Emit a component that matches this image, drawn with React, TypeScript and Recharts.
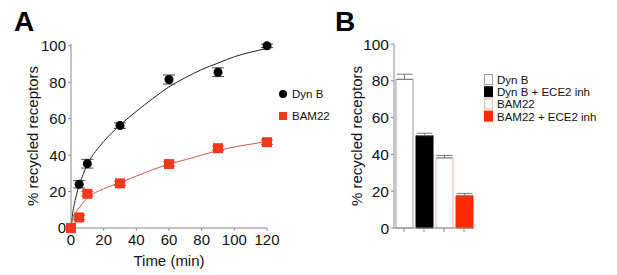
import React from 'react'
import {
  ComposedChart,
  BarChart,
  Bar,
  Cell,
  Line,
  Scatter,
  ErrorBar,
  XAxis,
  YAxis,
} from 'recharts'

const FONT = '"Liberation Sans", Arial, sans-serif'

// Panel A: measured points (time in min, % recycled, sem)
const dynBPoints = [
  { t: 0, y: 0, err: 0 },
  { t: 5, y: 24, err: 2 },
  { t: 10, y: 35.3, err: 2.4 },
  { t: 30, y: 56.2, err: 1.5 },
  { t: 60, y: 81.5, err: 2.5 },
  { t: 90, y: 85.5, err: 2.4 },
  { t: 120, y: 100, err: 1 },
]

const bam22Points = [
  { t: 0, y: 0, err: 0 },
  { t: 5, y: 5.8, err: 1.2 },
  { t: 10, y: 18.8, err: 1.2 },
  { t: 30, y: 24.5, err: 1.2 },
  { t: 60, y: 35.1, err: 1.2 },
  { t: 90, y: 43.8, err: 1.2 },
  { t: 120, y: 47.1, err: 1.2 },
]

// fitted curves
const dynBFit = [
  { t: 0, y: 0 }, { t: 1, y: 8 }, { t: 2, y: 13 }, { t: 3, y: 17 },
  { t: 5, y: 23.5 }, { t: 7.5, y: 29.5 }, { t: 10, y: 35 }, { t: 15, y: 42 },
  { t: 20, y: 47.5 }, { t: 30, y: 56.5 }, { t: 40, y: 64 }, { t: 50, y: 71 },
  { t: 60, y: 77.5 }, { t: 70, y: 82.5 }, { t: 80, y: 87 }, { t: 90, y: 90.5 },
  { t: 100, y: 94 }, { t: 110, y: 96.5 }, { t: 120, y: 98.5 },
]

const bam22Fit = [
  { t: 0, y: 0 }, { t: 1, y: 4.5 }, { t: 2, y: 7 }, { t: 3, y: 8.5 },
  { t: 5, y: 11 }, { t: 7.5, y: 14 }, { t: 10, y: 16.5 }, { t: 15, y: 19.5 },
  { t: 20, y: 21.5 }, { t: 30, y: 25 }, { t: 40, y: 28.5 }, { t: 50, y: 32 },
  { t: 60, y: 35 }, { t: 70, y: 37.5 }, { t: 80, y: 40 }, { t: 90, y: 42.5 },
  { t: 100, y: 44.5 }, { t: 110, y: 46 }, { t: 120, y: 47.5 },
]

const timeTicks = [0, 20, 40, 60, 80, 100, 120]
const pctTicks = [0, 20, 40, 60, 80, 100]

// Panel B
const conditions = ['Dyn B', 'Dyn B + ECE2 inh', 'BAM22', 'BAM22 + ECE2 inh']
const recycled = [80.8, 50.2, 38.1, 17.5]
const recycledErr = [2.8, 1.3, 1.3, 1.3]
const barFills = ['#ffffff', '#000000', '#ffffff', '#ff2a00']
const barStrokes = ['#9a9a9a', '#000000', '#e2b8a8', '#ff2a00']

const barData = conditions.map((name, i) => ({
  name,
  value: recycled[i],
  err: [0, recycledErr[i]],
}))

const RED = '#ee3a1c'
const AXIS = '#8a8a8a'

const Dot = (props: any) => {
  const { cx, cy } = props
  if (cx == null || cy == null) return null
  return <circle cx={cx} cy={cy} r={4.5} fill="#000" />
}

const Square = (props: any) => {
  const { cx, cy } = props
  if (cx == null || cy == null) return null
  return <rect x={cx - 5} y={cy - 5} width={10} height={10} fill={RED} />
}

const XTick = (props: any) => {
  const { x, y, payload } = props
  return (
    <text x={x} y={y + 12} textAnchor="middle" fontSize={15} fontFamily={FONT} fill="#111">
      {payload.value}
    </text>
  )
}

const makeYTick = (size: number) => (props: any) => {
  const { x, y, payload } = props
  return (
    <text x={x} y={y + size * 0.36} textAnchor="end" fontSize={size} fontFamily={FONT} fill="#111">
      {payload.value}
    </text>
  )
}

const YTickA = makeYTick(15)
const YTickB = makeYTick(15.5)

const panelLetter = (text: string, left: number) => (
  <div
    style={{
      position: 'absolute',
      left,
      top: 8,
      fontFamily: FONT,
      fontWeight: 'bold',
      fontSize: 28,
      lineHeight: 1,
    }}
  >
    {text}
  </div>
)

export default function App() {
  return (
    <div
      style={{
        position: 'absolute',
        left: 0,
        top: 0,
        width: 617,
        height: 275,
        background: '#fff',
        fontFamily: FONT,
      }}
    >
      {panelLetter('A', 14)}
      {panelLetter('B', 335)}

      <div style={{ position: 'absolute', left: 0, top: 0 }}>
        <ComposedChart
          width={330}
          height={275}
          margin={{ top: 44, right: 63, bottom: 0, left: 0 }}
        >
          <XAxis
            type="number"
            dataKey="t"
            domain={[0, 120]}
            ticks={timeTicks}
            allowDuplicatedCategory={false}
            height={47}
            tickSize={3}
            stroke={AXIS}
            tick={<XTick />}
            label={{
              value: 'Time (min)',
              position: 'center',
              dy: 9,
              fill: '#111',
              fontSize: 15,
              fontFamily: FONT,
            }}
          />
          <YAxis
            type="number"
            domain={[0, 100]}
            ticks={pctTicks}
            width={71}
            tickSize={3}
            stroke={AXIS}
            tick={<YTickA />}
            label={{
              value: '% recycled receptors',
              angle: -90,
              position: 'center',
              dx: -3,
              fill: '#111',
              fontSize: 15,
              fontFamily: FONT,
            }}
          />
          <Line
            data={dynBFit}
            dataKey="y"
            type="monotone"
            stroke="#222"
            strokeWidth={1}
            dot={false}
            isAnimationActive={false}
          />
          <Line
            data={bam22Fit}
            dataKey="y"
            type="monotone"
            stroke="#c8584a"
            strokeWidth={1}
            dot={false}
            isAnimationActive={false}
          />
          <Scatter data={dynBPoints} dataKey="y" shape={<Dot />} isAnimationActive={false}>
            <ErrorBar dataKey="err" direction="y" width={6} stroke="#444" strokeWidth={1} />
          </Scatter>
          <Scatter data={bam22Points} dataKey="y" shape={<Square />} isAnimationActive={false}>
            <ErrorBar dataKey="err" direction="y" width={6} stroke={RED} strokeWidth={1} />
          </Scatter>
        </ComposedChart>
      </div>

      <svg
        style={{ position: 'absolute', left: 270, top: 80 }}
        width={60}
        height={50}
      >
        <circle cx={13} cy={14} r={4} fill="#000" />
        <text x={22} y={18} fontSize={11.5} fontFamily={FONT} fill="#111">
          Dyn B
        </text>
        <rect x={9} y={32} width={8} height={8} fill={RED} />
        <text x={22} y={40} fontSize={11.5} fontFamily={FONT} fill="#111">
          BAM22
        </text>
      </svg>

      <div style={{ position: 'absolute', left: 330, top: 0 }}>
        <BarChart
          width={287}
          height={275}
          data={barData}
          margin={{ top: 44, right: 143, bottom: 0, left: 0 }}
          barSize={17}
        >
          <XAxis
            dataKey="name"
            height={47}
            tickSize={4}
            stroke={AXIS}
            tickFormatter={() => ''}
            interval={0}
          />
          <YAxis
            type="number"
            domain={[0, 100]}
            ticks={pctTicks}
            width={64}
            tickSize={3}
            stroke={AXIS}
            tick={<YTickB />}
            label={{
              value: '% recycled receptors',
              angle: -90,
              position: 'center',
              dx: -5,
              fill: '#111',
              fontSize: 15,
              fontFamily: FONT,
            }}
          />
          <Bar dataKey="value" isAnimationActive={false}>
            {barData.map((d, i) => (
              <Cell key={d.name} fill={barFills[i]} stroke={barStrokes[i]} strokeWidth={1} />
            ))}
            <ErrorBar dataKey="err" direction="y" width={8} stroke="#777" strokeWidth={1} />
          </Bar>
        </BarChart>
      </div>

      <svg
        style={{ position: 'absolute', left: 480, top: 70 }}
        width={137}
        height={56}
      >
        {conditions.map((name, i) => (
          <g key={name}>
            <rect
              x={4.5}
              y={4.5 + i * 12.2}
              width={8}
              height={10}
              fill={barFills[i]}
              stroke={barStrokes[i]}
              strokeWidth={1}
            />
            <text x={17} y={14 + i * 12.2} fontSize={11.5} fontFamily={FONT} fill="#111">
              {name}
            </text>
          </g>
        ))}
      </svg>
    </div>
  )
}
